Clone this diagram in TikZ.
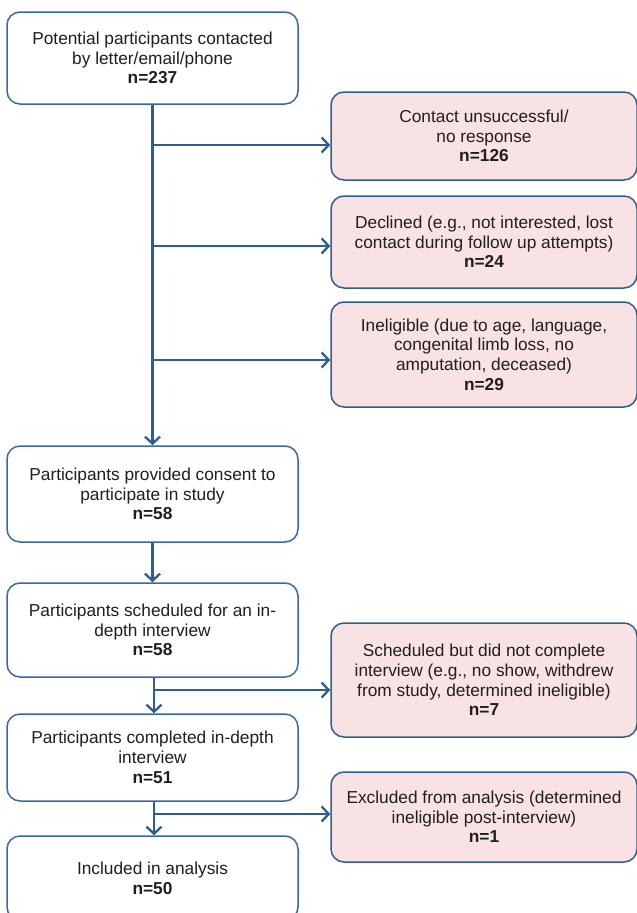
\documentclass[tikz,border=0pt]{standalone}
\usepackage{fontspec}
\setmainfont{Liberation Sans}
\usetikzlibrary{arrows.meta}
\definecolor{edgeblue}{HTML}{2F5D8C}
\definecolor{boxblue}{HTML}{3A68A0}
\definecolor{pinkfill}{HTML}{F8E2E3}
\tikzset{
  basebox/.style={draw=boxblue, line width=1.5pt, rounded corners=13pt, align=center,
    font=\fontsize{17.3}{19.7}\selectfont, inner sep=0pt, text=black!88},
  leftbox/.style={basebox, fill=white, minimum width=291pt},
  rightbox/.style={basebox, draw=edgeblue, fill=pinkfill, minimum width=306pt},
  conn/.style={draw=edgeblue, line width=2.3pt},
  arr/.style={conn, -{Straight Barb[length=7pt, width=15pt, line width=2.3pt]}}
}
\begin{document}
\begin{tikzpicture}[x=1pt, y=-1pt]
\useasboundingbox (0,0) rectangle (637,913);
% left column
\node[leftbox, minimum height=92pt] (b1) at (152.5,58) {Potential participants contacted\\by letter/email/phone\\\textbf{n=237}};
\node[leftbox, minimum height=96pt] (b2) at (152.5,494) {Participants provided consent to\\participate in study\\\textbf{n=58}};
\node[leftbox, minimum height=94pt] (b3) at (152.5,630) {Participants scheduled for an in-\\depth interview\\\textbf{n=58}};
\node[leftbox, minimum height=87pt] (b4) at (152.5,757.5) {Participants completed in-depth\\interview\\\textbf{n=51}};
\node[leftbox, minimum height=84pt] (b5) at (152.5,878) {Included in analysis\\\textbf{n=50}};
% right column
\node[rightbox, minimum height=88pt] (ra) at (484,136) {Contact unsuccessful/\\no response\\\textbf{n=126}};
\node[rightbox, minimum height=92pt] (rb) at (484,242) {Declined (e.g., not interested, lost\\contact during follow up attempts)\\\textbf{n=24}};
\node[rightbox, minimum height=105pt] (rc) at (484,354.5) {Ineligible (due to age, language,\\congenital limb loss, no\\amputation, deceased)\\\textbf{n=29}};
\node[rightbox, minimum height=114pt] (rd) at (484,680) {Scheduled but did not complete\\interview (e.g., no show, withdrew\\from study, determined ineligible)\\\textbf{n=7}};
\node[rightbox, minimum height=90pt] (re) at (484,817) {Excluded from analysis (determined\\ineligible post-interview)\\\textbf{n=1}};
% branch points
\coordinate (pa) at (152.5,145);
\coordinate (pb) at (152.5,246);
\coordinate (pc) at (152.5,360);
\coordinate (pd) at (154,690);
\coordinate (pe) at (154,814);
% connectors
\draw[arr] (b1.south) -- (b2.north);
\draw[arr] (pa) -- (pa -| ra.west);
\draw[arr] (pb) -- (pb -| rb.west);
\draw[arr] (pc) -- (pc -| rc.west);
\draw[arr] (b2.south) -- (b3.north);
\draw[arr] (b3.south -| pd) -- (b4.north -| pd);
\draw[arr] (pd) -- (pd -| rd.west);
\draw[arr] (b4.south -| pe) -- (b5.north -| pe);
\draw[arr] (pe) -- (pe -| re.west);
\end{tikzpicture}
\end{document}
